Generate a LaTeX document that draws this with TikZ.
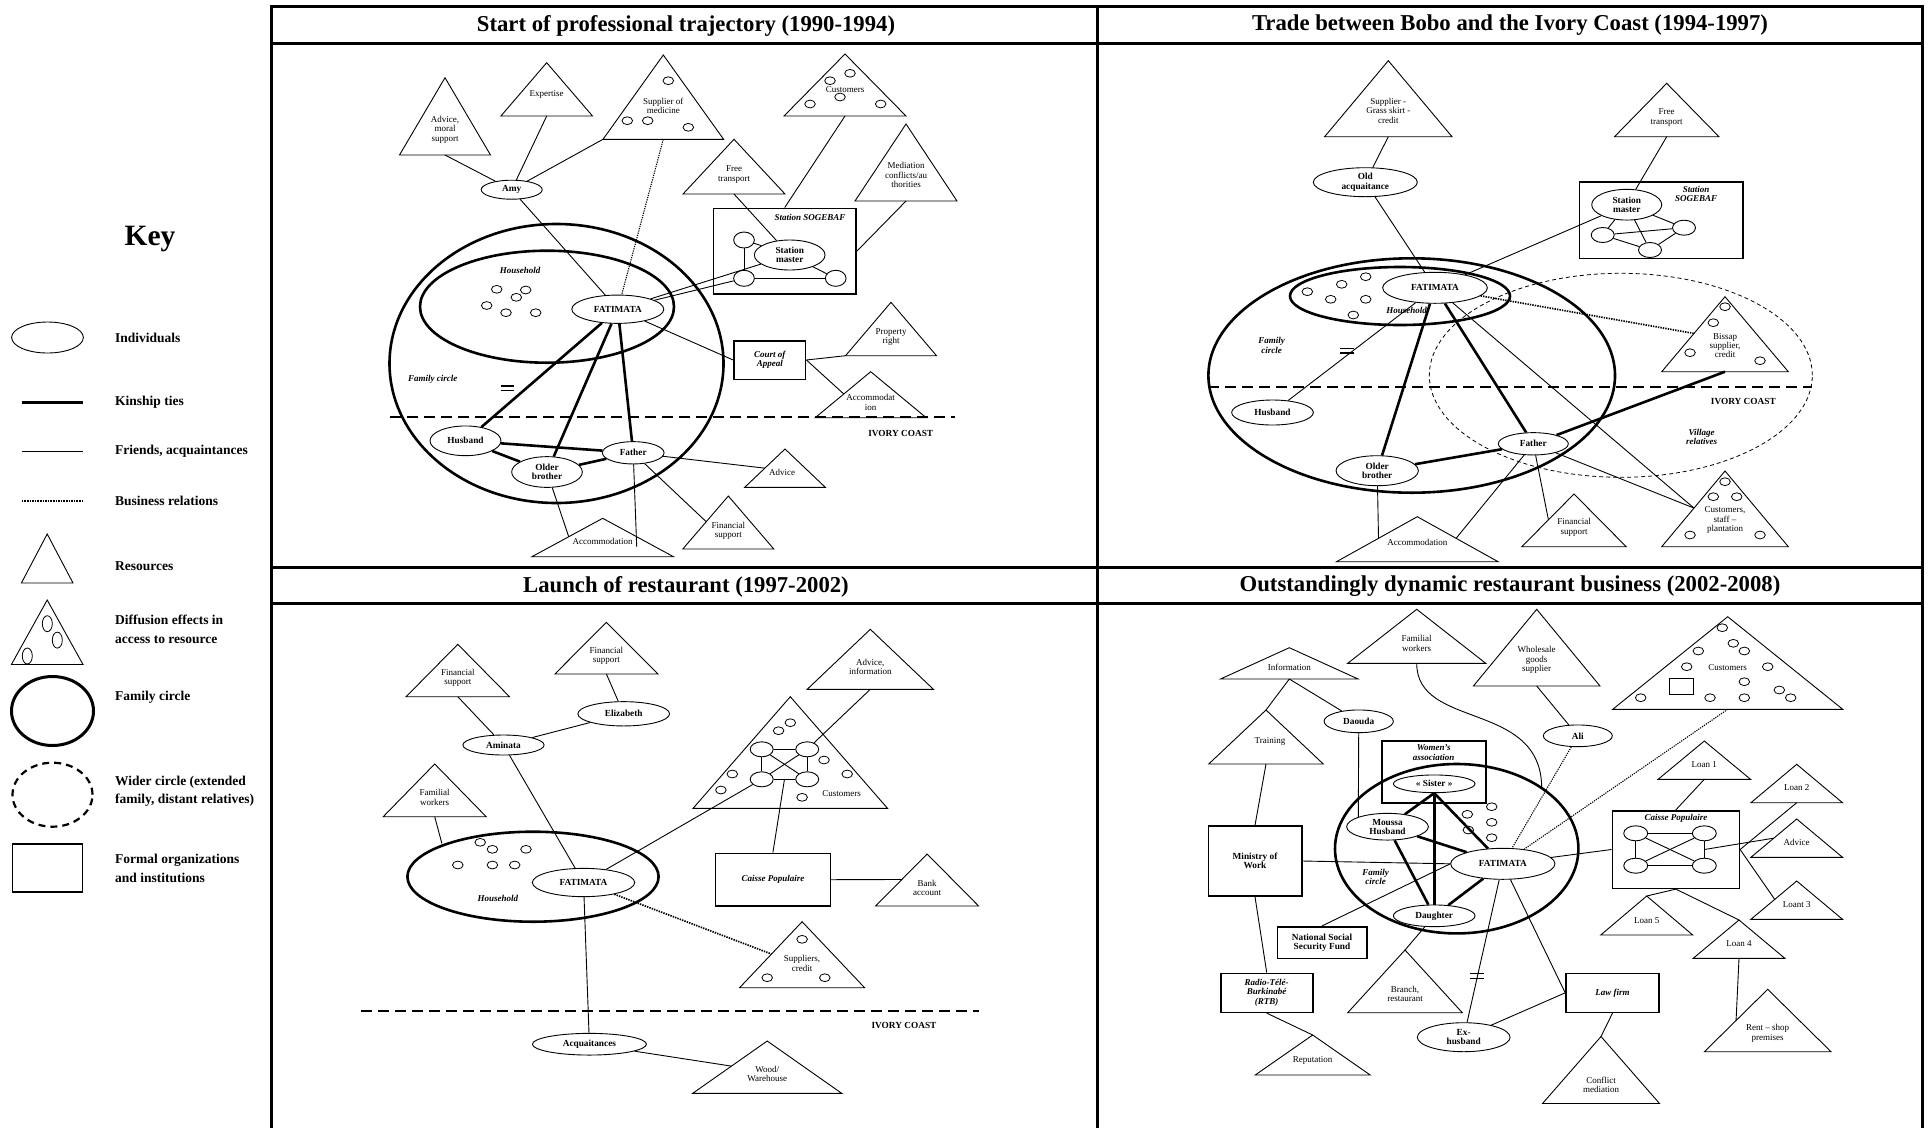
\documentclass[tikz,border=0pt]{standalone}
\usepackage{fontspec}
\setmainfont{Liberation Serif}
\usetikzlibrary{calc,shapes.geometric}

\newcommand\fRes{\fontsize{9}{9.4}\selectfont}
\newcommand\fNm{\fontsize{9.3}{9.4}\selectfont\bfseries}
\newcommand\fBI{\fontsize{9}{9.4}\selectfont\bfseries\itshape}
\newcommand\fTtl{\fontsize{22.7}{26}\selectfont\bfseries}
\newcommand\fKy{\fontsize{29.5}{34}\selectfont\bfseries}
\newcommand\fKt{\fontsize{13.5}{18.5}\selectfont\bfseries}

\newcommand\tri[5]{%
  \coordinate (#1-a) at (#2,#3);
  \coordinate (#1-l) at ({#2-#4},#5);
  \coordinate (#1-r) at ({#2+#4},#5);
  \coordinate (#1-b) at (#2,#5);
  \draw[tris] (#1-a) -- (#1-l) -- (#1-r) -- cycle;}
\newcommand\scirc[2]{\draw[circl] (#1,#2) ellipse [x radius=5.3pt, y radius=3.9pt];}

\begin{document}
\begin{tikzpicture}[x=1pt,y=-1pt,
 fr/.style={line width=0.9pt},
 kin/.style={line width=2.6pt},
 biz/.style={line width=1.7pt, dash pattern=on 1.4pt off 1.1pt},
 bizt/.style={line width=1.1pt, dash pattern=on 1.2pt off 1.1pt},
 fam/.style={line width=2.6pt},
 tris/.style={line width=0.9pt},
 circl/.style={line width=0.8pt},
 ind/.style={draw, ellipse, line width=0.9pt, inner sep=0pt, font=\fNm, align=center},
 cn/.style={draw, ellipse, line width=0.9pt, inner sep=0pt},
 box/.style={draw, line width=1.6pt, inner sep=0pt, font=\fBI, align=center},
 nbox/.style={draw, line width=1.6pt, inner sep=0pt, font=\fNm, align=center},
 rt/.style={font=\fRes, align=center, inner sep=0pt},
 il/.style={font=\fBI, align=center, inner sep=0pt},
 nl/.style={font=\fNm, align=center, inner sep=0pt},
 frame/.style={line width=3pt},
 bord/.style={line width=2pt, dash pattern=on 11pt off 6pt},
 kt/.style={font=\fKt, anchor=west, align=left, inner sep=0pt},
 ttl/.style={font=\fTtl, inner sep=0pt},
]
\fill[white] (0,0) rectangle (1929,1128);
\useasboundingbox (0,0) rectangle (1929,1128);

% ---------------- frame
\draw[frame] (271,1128) -- (271,6) -- (1922,6) -- (1922,1128);
\draw[frame] (1097.5,6) -- (1097.5,1128);
\draw[frame] (271,43) -- (1922,43);
\draw[frame] (271,567) -- (1922,567);
\draw[frame] (271,603) -- (1922,603);
\node[ttl] (t1) at (686,25.5) {Start of professional trajectory (1990-1994)};
\node[ttl] (t2) at (1510,25.5) {Trade between Bobo and the Ivory Coast (1994-1997)};
\node[ttl] (t3) at (686,586.5) {Launch of restaurant (1997-2002)};
\node[ttl] (t4) at (1510,586.5) {Outstandingly dynamic restaurant business (2002-2008)};

% ---------------- key
\node[font=\fKy, inner sep=0pt] (key) at (150,239) {Key};
\node[ind, minimum width=71.7, minimum height=31] (kind) at (47.5,337.5) {};
\node[kt] (kindt) at (115,337.5) {Individuals};
\coordinate (kk1) at (21.7,402); \coordinate (kk2) at (83.3,402);
\draw[line width=3pt] (kk1) -- (kk2);
\node[kt] (kkint) at (115,402) {Kinship ties};
\coordinate (kf1) at (21.7,451.5); \coordinate (kf2) at (83.3,451.5);
\draw[line width=1.1pt] (kf1) -- (kf2);
\node[kt] (kfrt) at (115,451.5) {Friends, acquaintances};
\coordinate (kb1) at (21.7,501); \coordinate (kb2) at (83.3,501);
\draw[line width=2.4pt, dash pattern=on 1.6pt off 1pt] (kb1) -- (kb2);
\node[kt] (kbust) at (115,501) {Business relations};
\tri{kres}{47.2}{534}{25.8}{583}
\node[kt] (krest) at (115,566) {Resources};
\tri{kdif}{47.2}{600}{35.8}{664.5}
\draw[circl] (47.3,623.7) ellipse [x radius=5pt, y radius=8pt];
\draw[circl] (57.3,640.1) ellipse [x radius=5pt, y radius=8pt];
\draw[circl] (27.3,656) ellipse [x radius=5pt, y radius=8pt];
\node[kt] (kdift) at (115,629.5) {Diffusion effects in\\access to resource};
\draw[line width=3pt] (52.5,711) ellipse [x radius=41pt, y radius=34.5pt];
\node[kt] (kfamt) at (115,697) {Family circle};
\draw[line width=2.2pt, dash pattern=on 7pt off 5pt] (52.5,794.7) ellipse [x radius=40pt, y radius=32pt];
\node[kt] (kwidt) at (115,791.5) {Wider circle (extended\\family, distant relatives)};
\node[draw, line width=1.2pt, minimum width=70, minimum height=48, inner sep=0pt] (kform) at (47.3,868) {};
\node[kt] (kformt) at (115,868.5) {Formal organizations\\and institutions};

% ================= PANEL 1
\tri{p1adv}{445}{77.7}{45.5}{155}
\node[rt] (p1adv-t) at (445,129.5) {Advice,\\moral\\support};
\tri{p1exp}{546.7}{62.7}{45.8}{116}
\node[rt] (p1exp-t) at (546.7,94) {Expertise};
\tri{p1sup}{663.3}{55}{60.3}{139.3}
\node[rt] (p1sup-t) at (663.3,106) {Supplier of\\medicine};
\scirc{668.3}{80.7}\scirc{627.3}{120.7}\scirc{647.7}{120.7}\scirc{688.3}{127.3}
\tri{p1ft}{734}{139.3}{51}{194}
\node[rt] (p1ft-t) at (734,174.7) {Free\\transport};
\tri{p1cus}{845}{54}{61}{116}
\node[rt] (p1cus-t) at (845,90) {Customers};
\scirc{850}{73.3}\scirc{830}{80.7}\scirc{840}{97}\scirc{810}{104}\scirc{880.7}{104}
\tri{p1med}{906}{124}{51}{201}
\node[rt] (p1med-t) at (906,175) {Mediation\\conflicts/au\\thorities};
\node[box, minimum width=142.7, minimum height=85.7] (p1sog) at (784.7,251.2) {};
\node[il] (p1sog-t) at (810,217.3) {Station SOGEBAF};
\node[ind, minimum width=70.7, minimum height=30] (p1sm) at (789.7,255) {Station\\master};
\node[cn, minimum width=20.7, minimum height=16] (p1c1) at (744,240) {};
\node[cn, minimum width=20.7, minimum height=16] (p1c2) at (744,278.3) {};
\node[cn, minimum width=20.7, minimum height=16] (p1c3) at (835.7,278.3) {};
\draw[fr] (p1c1) -- (p1sm);
\draw[fr] (p1c1) -- (p1c2);
\draw[fr] (p1c2) -- (p1c3);
\draw[fr] (p1sm) -- (p1c3);

\draw[fam] (556.5,363.5) ellipse [x radius=167pt, y radius=139.5pt];
\draw[fam] (547,306.7) ellipse [x radius=127pt, y radius=56pt];
\node[il] (p1hh) at (520,270) {Household};
\node[il] (p1fc) at (432.7,379) {Family circle};
\scirc{496.7}{289.3}\scirc{525.7}{290}\scirc{516.3}{297.3}\scirc{486.7}{305.5}\scirc{506}{312.7}\scirc{535.7}{312.7}
\node[ind, minimum width=92, minimum height=28.3] (p1fat) at (617.8,309.2) {FATIMATA};
\node[ind, minimum width=61, minimum height=19] (p1amy) at (511.7,189.7) {Amy};
\node[ind, minimum width=71, minimum height=29.7] (p1hus) at (465.5,440.8) {Husband};
\node[ind, minimum width=70.7, minimum height=30.7] (p1ob) at (547,472) {Older\\brother};
\node[ind, minimum width=61.7, minimum height=22.3] (p1fa) at (633.2,452.8) {Father};
\node[box, minimum width=71.7, minimum height=38.6] (p1coa) at (769.8,360) {Court of\\Appeal};
\tri{p1pr}{891}{302.3}{45.5}{355.7}
\node[rt] (p1pr-t) at (891,337) {Property\\right};
\tri{p1acc2}{870.7}{371.7}{55.5}{417.7}
\node[rt] (p1acc2-t) at (870.7,402.5) {Accommodat\\ion};
\tri{p1advc}{785}{449}{40.3}{487.3}
\node[rt] (p1advc-t) at (782,472.7) {Advice};
\tri{p1fin}{728.3}{496}{45.5}{549}
\node[rt] (p1fin-t) at (728.3,531) {Financial\\support};
\tri{p1acc}{602.7}{518.3}{70.8}{556.7}
\node[rt] (p1acc-t) at (602.7,541.7) {Accommodation};
\draw[bord] (390,417.3) -- (955,417.3);
\node[nl] (p1ic) at (900.7,433.3) {IVORY COAST};
\draw[line width=1.1pt] (500.7,386) -- (514,386) (500.7,390.5) -- (514,390.5);

\draw[fr] (p1amy) -- (p1adv-b);
\draw[fr] (p1amy) -- (p1exp-b);
\draw[fr] (p1amy) -- (p1sup-l);
\draw[fr] (p1amy) -- (p1fat);
\draw[bizt] (p1sup-b) -- (p1fat);
\draw[fr] (p1ft-b) -- (p1sm);
\draw[fr] (p1cus-b) -- (p1sog.north);
\draw[fr] (p1med-b) -- (p1sog.east);
\draw[fr] (p1fat) -- (p1sm);
\draw[fr] (p1fat) -- (p1c2);
\draw[fr] (p1fat) -- (p1coa.west);
\draw[fr] (p1coa.east) -- (p1pr-l);
\draw[fr] (p1coa.east) -- ($(p1acc2-a)!0.485!(p1acc2-l)$);
\draw[kin] (p1fat) -- (p1hus);
\draw[kin] (p1fat) -- (p1ob);
\draw[kin] (p1fat) -- (p1fa);
\draw[kin] (p1hus) -- (p1fa);
\draw[kin] (p1hus) -- (p1ob);
\draw[kin] (p1ob) -- (p1fa);
\draw[fr] (p1fa) -- ($(p1advc-a)!0.5!(p1advc-l)$);
\draw[fr] (p1fa) -- ($(p1fin-a)!0.485!(p1fin-l)$);
\draw[fr] (p1fa) -- ($(p1acc-b)+(34,-10)$);
\draw[fr] (p1ob) -- ($(p1acc-a)!0.48!(p1acc-l)$);

% ================= PANEL 2
\tri{p2sup}{1388.3}{60.7}{63.7}{136.7}
\node[rt] (p2sup-t) at (1388.3,110.7) {Supplier -\\Grass skirt -\\credit};
\node[ind, minimum width=104, minimum height=29] (p2old) at (1365.3,182.2) {Old\\acquaitance};
\draw[fam] (1411.7,375.5) ellipse [x radius=203.3pt, y radius=117.2pt];
\draw[fam] (1400,296) ellipse [x radius=110pt, y radius=29pt];
\draw[line width=0.8pt, dash pattern=on 4pt off 3pt] (1620.8,375.3) ellipse [x radius=191.5pt, y radius=102pt];
\scirc{1307.3}{291.7}\scirc{1341.7}{284.3}\scirc{1365.7}{276.7}\scirc{1330.7}{299.3}\scirc{1365.7}{299.3}\scirc{1353.3}{315}
\node[ind, minimum width=104.7, minimum height=31] (p2fat) at (1435,287.8) {FATIMATA};
\node[il] (p2hh) at (1406.7,310.7) {Household};
\node[il] (p2fc) at (1271.7,345.3) {Family\\circle};
\draw[line width=1.1pt] (1340,348.5) -- (1353.5,348.5) (1340,353) -- (1353.5,353);
\draw[bord] (1208.3,387.3) -- (1811.7,387.3);
\node[nl] (p2ic) at (1743.3,401.7) {IVORY COAST};
\node[il] (p2vr) at (1701.7,436.7) {Village\\relatives};
\node[ind, minimum width=81.7, minimum height=25] (p2hus) at (1272.5,412.5) {Husband};
\node[ind, minimum width=82.3, minimum height=30] (p2ob) at (1377.2,470.7) {Older\\brother};
\node[ind, minimum width=70, minimum height=22.3] (p2fa) at (1533.3,443.8) {Father};
\tri{p2bis}{1725}{296.7}{63.3}{371.7}
\node[rt] (p2bis-t) at (1725,345.5) {Bissap\\supplier,\\credit};
\scirc{1725}{306.7}\scirc{1713.3}{322.7}\scirc{1690}{352.7}\scirc{1760}{360.7}
\tri{p2cus}{1725}{471}{63.3}{546.7}
\node[rt] (p2cus-t) at (1725,520) {Customers,\\staff –\\plantation};
\scirc{1725}{481.7}\scirc{1713.3}{496.7}\scirc{1736.7}{496.7}\scirc{1690}{535}\scirc{1760}{535}
\tri{p2acc}{1417.3}{516.7}{80.8}{561.7}
\node[rt] (p2acc-t) at (1417.3,542.7) {Accommodation};
\tri{p2fin}{1574}{494}{52.2}{546.7}
\node[rt] (p2fin-t) at (1574,527.5) {Financial\\support};
\tri{p2ft}{1666.7}{83.3}{52.2}{136.7}
\node[rt] (p2ft-t) at (1666.7,117.5) {Free\\transport};
\node[box, minimum width=163.4, minimum height=76.6] (p2sog) at (1661,220) {};
\node[il] (p2sog-t) at (1696,193.8) {Station\\SOGEBAF};
\node[ind, minimum width=70, minimum height=30.7] (p2sm) at (1626.7,204.7) {Station\\master};
\node[cn, minimum width=23, minimum height=15] (p2c1) at (1602.7,235) {};
\node[cn, minimum width=23, minimum height=15] (p2c2) at (1684,227.7) {};
\node[cn, minimum width=23, minimum height=15] (p2c3) at (1650,250) {};
\draw[fr] (p2sm) -- (p2c1);
\draw[fr] (p2sm) -- (p2c2);
\draw[fr] (p2sm) -- (p2c3);
\draw[fr] (p2c1) -- (p2c2);
\draw[fr] (p2c1) -- (p2c3);
\draw[fr] (p2c3) -- (p2c2);

\draw[fr] (p2old) -- (p2sup-b);
\draw[fr] (p2old) -- (p2fat);
\draw[fr] (p2hus) -- (p2fat);
\draw[kin] (p2fat) -- (p2ob);
\draw[kin] (p2fat) -- (p2fa);
\draw[kin] (p2ob) -- (p2fa);
\draw[kin] (p2fa) -- (p2bis-b);
\draw[biz] (p2fat) -- ($(p2bis-a)!0.49!(p2bis-l)$);
\draw[fr] (p2fat) -- ($(p2cus-a)!0.49!(p2cus-l)$);
\draw[fr] (p2fa) -- ($(p2cus-a)!0.49!(p2cus-l)$);
\draw[fr] (p2ob) -- ($(p2acc-a)!0.48!(p2acc-l)$);
\draw[fr] (p2fa) -- ($(p2acc-a)!0.48!(p2acc-r)$);
\draw[fr] (p2fa) -- ($(p2fin-a)!0.49!(p2fin-l)$);
\draw[fr] (p2ft-b) -- (p2sm);
\draw[fr] (p2fat) -- (p2sm);

% ================= PANEL 3
\tri{p3finl}{457.8}{644.3}{51.7}{696.7}
\node[rt] (p3finl-t) at (457.8,678) {Financial\\support};
\tri{p3finm}{606.4}{622.3}{51.5}{674}
\node[rt] (p3finm-t) at (606.4,655.8) {Financial\\support};
\tri{p3adv}{870.3}{629.3}{63.1}{689.3}
\node[rt] (p3adv-t) at (870.3,666.7) {Advice,\\information};
\node[ind, minimum width=91.7, minimum height=24.3] (p3eli) at (623.7,713.8) {Elizabeth};
\node[ind, minimum width=81.2, minimum height=20] (p3ami) at (503.5,745) {Aminata};
\tri{p3famw}{434.7}{764}{51.5}{816.7}
\node[rt] (p3famw-t) at (434.7,797.5) {Familial\\workers};
\draw[fam] (533,876.7) ellipse [x radius=125.6pt, y radius=45pt];
\coordinate (p3hhb) at (441.9,843.5);
\node[il] (p3hh) at (497.8,898.3) {Household};
\scirc{480.2}{842.3}\scirc{492.4}{849.3}\scirc{526}{849.3}\scirc{457.8}{865}\scirc{492.4}{865}\scirc{514.7}{865}
\node[ind, minimum width=102.3, minimum height=28.3] (p3fat) at (583.5,882.5) {FATIMATA};
\tri{p3cus}{790.3}{696.7}{97.2}{808.3}
\node[rt] (p3cus-t) at (841.7,793.3) {Customers};
\scirc{778.6}{730.7}\scirc{790.3}{722.7}\scirc{824}{760}\scirc{732.3}{774}\scirc{847.2}{774}\scirc{720.9}{790}\scirc{802.1}{797.3}
\node[cn, minimum width=23, minimum height=15] (p3k1) at (761.7,749.3) {};
\node[cn, minimum width=23, minimum height=15] (p3k2) at (807.2,749.3) {};
\node[cn, minimum width=23, minimum height=15] (p3k3) at (761.7,779.3) {};
\node[cn, minimum width=23, minimum height=15] (p3k4) at (807.2,779.3) {};
\draw[fr] (p3k1) -- (p3k2);
\draw[fr] (p3k3) -- (p3k4);
\draw[fr] (p3k1) -- (p3k3);
\draw[fr] (p3k2) -- (p3k4);
\draw[fr] (p3k1) -- (p3k4);
\draw[fr] (p3k2) -- (p3k3);
\node[box, minimum width=114.9, minimum height=52.7] (p3cp) at (772.9,879.7) {Caisse Populaire};
\tri{p3bank}{927.1}{854}{51.5}{906}
\node[rt] (p3bank-t) at (927.1,888) {Bank\\account};
\tri{p3sup}{802.1}{921.7}{62.5}{987.7}
\node[rt] (p3sup-t) at (802.1,963.3) {Suppliers,\\credit};
\scirc{802.1}{939.3}\scirc{767.2}{977.7}\scirc{824.8}{977.7}
\draw[bord] (361,1010.7) -- (979,1010.7);
\node[nl] (p3ic) at (904,1025) {IVORY COAST};
\node[ind, minimum width=114, minimum height=21.7] (p3acq) at (589.4,1044.2) {Acquaitances};
\tri{p3wood}{767.2}{1041}{74.5}{1093.3}
\node[rt] (p3wood-t) at (767.2,1074) {Wood/\\Warehouse};

\draw[fr] (p3ami) -- (p3finl-b);
\draw[fr] (p3eli) -- (p3finm-b);
\draw[fr] (p3ami) -- (p3eli);
\draw[fr] (p3ami) -- (p3fat);
\draw[fr] (p3famw-b) -- (p3hhb);
\draw[fr] (p3fat) -- (p3k3);
\draw[fr] (p3adv-b) -- (p3k2);
\draw[fr] ($(p3k3)!0.5!(p3k4)$) -- (p3cp.north);
\draw[fr] (p3cp.east) -- ($(p3bank-a)!0.49!(p3bank-l)$);
\draw[biz] (p3fat) -- ($(p3sup-a)!0.49!(p3sup-l)$);
\draw[fr] (p3fat) -- (p3acq);
\draw[fr] (p3acq) -- ($(p3wood-a)!0.48!(p3wood-l)$);

% ================= PANEL 4
\tri{p4inf}{1289.3}{647.7}{68.8}{679}
\node[rt] (p4inf-t) at (1289.3,667.7) {Information};
\tri{p4trn}{1266}{710}{57.3}{764}
\node[rt] (p4trn-t) at (1270,741.7) {Training};
\node[ind, minimum width=69.3, minimum height=22.7] (p4dao) at (1358.7,721.3) {Daouda};
\tri{p4fam}{1416.7}{609.3}{69}{663.3}
\node[rt] (p4fam-t) at (1416.7,643.5) {Familial\\workers};
\tri{p4whs}{1536.7}{609.3}{63.3}{686}
\node[rt] (p4whs-t) at (1536.7,660) {Wholesale\\goods\\supplier};
\node[ind, minimum width=69, minimum height=21.7] (p4ali) at (1577.8,735.8) {Ali};
\tri{p4cus}{1727.7}{616.7}{115}{709.3}
\node[rt] (p4cus-t) at (1727.7,667.7) {Customers};
\scirc{1722.3}{627.7}\scirc{1733.3}{643.3}\scirc{1744.3}{651}\scirc{1698.3}{651}\scirc{1686.7}{666.7}\scirc{1767.7}{666.7}
\scirc{1744.3}{681.7}\scirc{1779.3}{690}\scirc{1790.7}{697.7}\scirc{1640.7}{697.7}\scirc{1710}{697.7}\scirc{1744.3}{697.7}
\draw[line width=1.2pt] (1669.3,678.3) rectangle (1693.3,694.3);

\node[box, minimum width=104, minimum height=62] (p4wa) at (1433.7,771.7) {};
\node[il] (p4wa-t) at (1433.7,752.5) {Women's\\association};
\draw[fam] (1456.7,848.7) ellipse [x radius=121.7pt, y radius=84.7pt];
\coordinate (p4fcp) at (1541.7,788.3);
\node[ind, minimum width=81.7, minimum height=17.7] (p4sis) at (1434.2,783.8) {« Sister »};
\node[ind, minimum width=81.7, minimum height=26.7] (p4mou) at (1387.5,826.7) {Moussa\\Husband};
\node[ind, minimum width=104.3, minimum height=31] (p4fat) at (1502.8,863.8) {FATIMATA};
\node[ind, minimum width=81.7, minimum height=21.7] (p4dau) at (1434.2,915.8) {Daughter};
\node[il] (p4fc) at (1375.7,876.7) {Family\\circle};
\scirc{1467.3}{814.3}\scirc{1491.7}{806.7}\scirc{1468.3}{830}\scirc{1491.7}{822.3}\scirc{1491.7}{837.7}

\node[nbox, minimum width=93.4, minimum height=70] (p4min) at (1255,861) {Ministry of\\Work};
\node[box, minimum width=92, minimum height=39] (p4rtb) at (1266.7,992.8) {Radio-Télé-\\Burkinabé\\(RTB)};
\tri{p4rep}{1312.7}{1035}{57.5}{1075}
\node[rt] (p4rep-t) at (1312.7,1060) {Reputation};
\node[nbox, minimum width=89.4, minimum height=31.6] (p4nss) at (1322,942.5) {National Social\\Security Fund};
\tri{p4br}{1405}{950}{57.3}{1012.7}
\node[rt] (p4br-t) at (1405,994.2) {Branch,\\restaurant};
\node[ind, minimum width=92.7, minimum height=29] (p4exh) at (1463.7,1037.2) {Ex-\\husband};
\draw[line width=1.1pt] (1469.5,973.7) -- (1484,973.7) (1469.5,978.2) -- (1484,978.2);
\node[box, minimum width=93, minimum height=39] (p4law) at (1612.5,992.8) {Law firm};
\tri{p4con}{1601}{1036.5}{58.5}{1103.5}
\node[rt] (p4con-t) at (1601,1085) {Conflict\\mediation};

\node[box, minimum width=127, minimum height=77.6] (p4cp) at (1675.8,849.5) {};
\node[il] (p4cp-t) at (1676,818.3) {Caisse Populaire};
\node[cn, minimum width=24, minimum height=15] (p4c1) at (1635.7,833.3) {};
\node[cn, minimum width=24, minimum height=15] (p4c2) at (1704.3,833.3) {};
\node[cn, minimum width=24, minimum height=15] (p4c3) at (1635.7,865.7) {};
\node[cn, minimum width=24, minimum height=15] (p4c4) at (1704.3,865.7) {};
\draw[fr] (p4c1) -- (p4c2);
\draw[fr] (p4c3) -- (p4c4);
\draw[fr] (p4c1) -- (p4c3);
\draw[fr] (p4c2) -- (p4c4);
\draw[fr] (p4c1) -- (p4c4);
\draw[fr] (p4c2) -- (p4c3);
\tri{p4l1}{1704.3}{741}{46.2}{779.3}
\node[rt] (p4l1-t) at (1704.3,764.3) {Loan 1};
\tri{p4l2}{1796.7}{764.3}{45.8}{802.7}
\node[rt] (p4l2-t) at (1796.7,787.7) {Loan 2};
\tri{p4adv}{1796.7}{819}{45.8}{857.3}
\node[rt] (p4adv-t) at (1796.7,842.7) {Advice};
\tri{p4l3}{1796.7}{881}{45.8}{919.3}
\node[rt] (p4l3-t) at (1796.7,904.3) {Loant 3};
\tri{p4l5}{1646.7}{896}{46}{935}
\node[rt] (p4l5-t) at (1646.7,920.7) {Loan 5};
\tri{p4l4}{1739}{920}{45.8}{958.3}
\node[rt] (p4l4-t) at (1739,943.3) {Loan 4};
\tri{p4rent}{1767.7}{989.3}{63.3}{1051.7}
\node[rt] (p4rent-t) at (1767.7,1033.3) {Rent – shop\\premises};

\draw[fr] (p4inf-b) -- (p4trn-a);
\draw[fr] (p4inf-b) -- (p4dao);
\draw[fr] (p4dao.south) -- (p4mou.north west);
\draw[fr] (p4fam-b) .. controls (1416.7,730) and (1541.7,700) .. (p4fcp);
\draw[fr] (p4whs-b) -- (p4ali);
\draw[bizt] (p4ali) -- (p4fat);
\draw[bizt] (p4cus-b) -- (p4fat);
\draw[kin] (p4sis.south) -- (p4mou);
\draw[kin] (p4sis.south) -- (p4dau);
\draw[kin] (p4sis.south) -- (p4fat);
\draw[kin] (p4mou) -- (p4fat);
\draw[kin] (p4mou) -- (p4dau);
\draw[kin] (p4dau) -- (p4fat);
\draw[fr] (p4trn-b) -- (p4min.north);
\draw[fr] (p4min.east) -- (p4fat.west);
\draw[fr] (p4min.south) -- (p4rtb.north);
\draw[fr] (p4rtb.south) -- (p4rep-a);
\draw[fr] (p4nss.north) -- (p4fat.west);
\draw[fr] (p4dau) -- (p4br-a);
\draw[fr] (p4fat) -- (p4exh);
\draw[fr] (p4fat) -- (p4law.west);
\draw[fr] (p4exh) -- (p4law.west);
\draw[fr] (p4law.south) -- (p4con-a);
\draw[fr] (p4fat) -- (p4cp.west);
\draw[fr] (p4l1-b) -- (p4cp.north);
\draw[fr] (p4l2-b) -- (p4cp.east);
\draw[fr] ($(p4c2)!0.5!(p4c4)$) -- ($(p4adv-a)!0.5!(p4adv-l)$);
\draw[fr] (p4cp.east) -- ($(p4l3-a)!0.48!(p4l3-l)$);
\draw[fr] (p4cp.south) -- (p4l5-a);
\draw[fr] (p4cp.south) -- (p4l4-a);
\draw[fr] (p4l4-b) -- ($(p4rent-a)!0.5!(p4rent-l)$);
\end{tikzpicture}
\end{document}
